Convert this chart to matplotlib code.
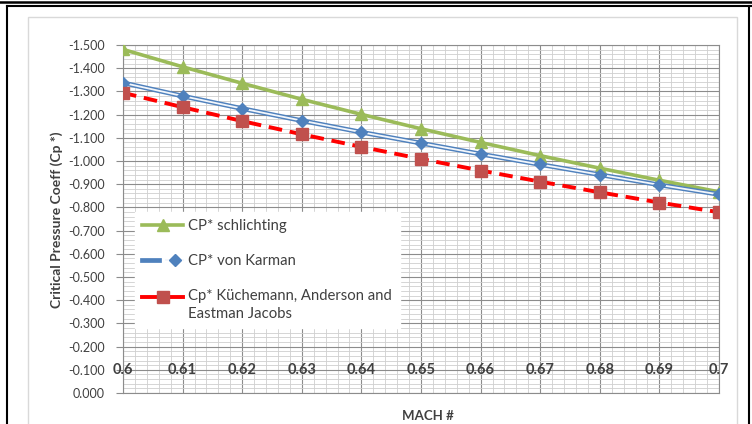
import numpy as np
import matplotlib
matplotlib.use("Agg")
import matplotlib.pyplot as plt
from matplotlib.lines import Line2D
from matplotlib.patches import Rectangle
from matplotlib.legend_handler import HandlerTuple, HandlerLine2D
from matplotlib.ticker import MultipleLocator, FuncFormatter

# Mach numbers and critical pressure coefficients per method
mach = [0.60, 0.61, 0.62, 0.63, 0.64, 0.65, 0.66, 0.67, 0.68, 0.69, 0.70]
cp_schlichting = [-1.481, -1.406, -1.335, -1.266, -1.201, -1.139, -1.080, -1.023, -0.969, -0.917, -0.867]
cp_karman = [-1.337, -1.280, -1.226, -1.174, -1.124, -1.077, -1.030, -0.985, -0.941, -0.897, -0.856]
cp_kuchemann = [-1.294, -1.232, -1.172, -1.115, -1.061, -1.009, -0.959, -0.911, -0.865, -0.821, -0.779]

x_ticks = [0.60, 0.61, 0.62, 0.63, 0.64, 0.65, 0.66, 0.67, 0.68, 0.69, 0.70]
x_tick_labels = ["0.6", "0.61", "0.62", "0.63", "0.64", "0.65", "0.66", "0.67", "0.68", "0.69", "0.7"]
series_labels = ["CP* schlichting", "CP* von Karman", "Cp* Küchemann, Anderson and\nEastman Jacobs"]

GREEN = "#9BBB59"
BLUE = "#4F81BD"
BLUE_CORE = "#F2F6FB"
RED = "#FF0000"
RED_MARK = "#C0504D"
TXT = "#404040"


class HandlerFirstLine(HandlerLine2D):
    """Legendensymbol auf Höhe der ersten Textzeile setzen"""
    def __init__(self, shift, **kw):
        super().__init__(**kw)
        self.shift = shift

    def create_artists(self, legend, orig_handle, xdescent, ydescent, width, height, fontsize, trans):
        artists = super().create_artists(legend, orig_handle, xdescent, ydescent,
                                         width, height, fontsize, trans)
        for a in artists:
            a.set_ydata(np.asarray(a.get_ydata()) + self.shift * fontsize)
        return artists


plt.rcParams['font.family'] = ['Lato', 'DejaVu Sans']
plt.rcParams['axes.unicode_minus'] = False

fig = plt.figure(figsize=(7.52, 4.24), dpi=100)
ax = fig.add_axes([123 / 752, 1 - 393 / 424, 596 / 752, 348 / 424])

ax.set_xlim(0.6, 0.7)
ax.set_ylim(0.0, -1.5)   # umgekehrte Achse: -1.5 oben

ax.xaxis.set_major_locator(MultipleLocator(0.01))
ax.xaxis.set_minor_locator(MultipleLocator(0.002))
ax.yaxis.set_major_locator(MultipleLocator(0.1))
ax.yaxis.set_minor_locator(MultipleLocator(0.02))
ax.yaxis.set_major_formatter(FuncFormatter(lambda v, p: f"{v:.3f}".replace("-0.000", "0.000")))

ax.grid(True, which='major', color='#8C8C8C', lw=0.8)
ax.grid(True, which='minor', color='#CFCFCF', lw=0.6)
ax.set_axisbelow(True)

ax.tick_params(axis='y', which='major', length=5, color='#8C8C8C', labelsize=9, labelcolor=TXT, pad=8)
ax.tick_params(axis='x', which='major', length=0, labelbottom=False)
ax.tick_params(which='minor', length=0)
for side in ['left', 'bottom', 'top', 'right']:
    ax.spines[side].set_color('#8C8C8C')
    ax.spines[side].set_linewidth(0.8)

# Achsenbeschriftung der Machzahlen liegt auf der -0.1 Linie
for xt, lab in zip(x_ticks, x_tick_labels):
    ax.text(xt, -0.1, lab, ha='center', va='center', fontsize=10.5,
            fontweight='bold', color=TXT, zorder=6)

# Kurven
ax.plot(mach, cp_schlichting, color=GREEN, lw=2.6, marker='^', ms=8, zorder=3)
ax.plot(mach, cp_karman, color=BLUE, lw=3.4, zorder=3.1)
ax.plot(mach, cp_karman, color=BLUE_CORE, lw=1.3, zorder=3.2)
ax.plot(mach, cp_karman, ls='none', marker='D', ms=6, color=BLUE, zorder=3.3)
ax.plot(mach, cp_kuchemann, color=RED, lw=2.8, ls=(0, (3.5, 2)), zorder=3.4)
ax.plot(mach, cp_kuchemann, ls='none', marker='s', ms=9, color=RED_MARK, zorder=3.5)

h1 = Line2D([], [], color=GREEN, lw=2.6, marker='^', ms=8)
h2 = (Line2D([], [], color=BLUE, lw=3.4),
      Line2D([], [], color=BLUE_CORE, lw=1.3, marker='D', ms=6, mfc=BLUE, mec=BLUE))
h3 = Line2D([], [], color=RED, lw=2.8, marker='s', ms=9, mfc=RED_MARK, mec=RED_MARK)
leg = ax.legend([h1, h2, h3], series_labels,
                handler_map={tuple: HandlerTuple(ndivide=None), h3: HandlerFirstLine(0.55)},
                loc='upper left', bbox_to_anchor=(0.02, 0.52), borderaxespad=0,
                frameon=True, fancybox=False, edgecolor='white', framealpha=1,
                fontsize=10.7, labelcolor=TXT, handlelength=2.75, labelspacing=1.4,
                borderpad=0.5, handletextpad=0.35)
for t in leg.get_texts():
    t.set_linespacing(1.35)
leg.set_zorder(7)

ax.set_ylabel("Critical Pressure Coeff (Cp *)", fontsize=10, fontweight='bold', color=TXT)
ax.yaxis.set_label_coords(-0.10, 0.497)
ax.set_xlabel("MACH #", fontsize=9.5, fontweight='bold', color=TXT)
ax.xaxis.set_label_coords(0.512, -0.049)

# Diagrammbereich und Rahmen
fig.add_artist(Rectangle((28 / 752, -0.1), (737 - 28) / 752, 1 - 17 / 424 + 0.1,
                         transform=fig.transFigure, fill=False, edgecolor='#D9D9D9', lw=1))
fig.add_artist(Line2D([0, 1], [1 - 2 / 424] * 2, transform=fig.transFigure, color='black', lw=1.8))
fig.add_artist(Line2D([7 / 752, 1], [1 - 6 / 424] * 2, transform=fig.transFigure, color='black', lw=1.5))
fig.add_artist(Line2D([7 / 752] * 2, [0, 1 - 6 / 424], transform=fig.transFigure, color='black', lw=1.5))
fig.add_artist(Line2D([749 / 752] * 2, [0, 1 - 6 / 424], transform=fig.transFigure, color='black', lw=1.5))

fig.savefig("out.png", dpi=100)
